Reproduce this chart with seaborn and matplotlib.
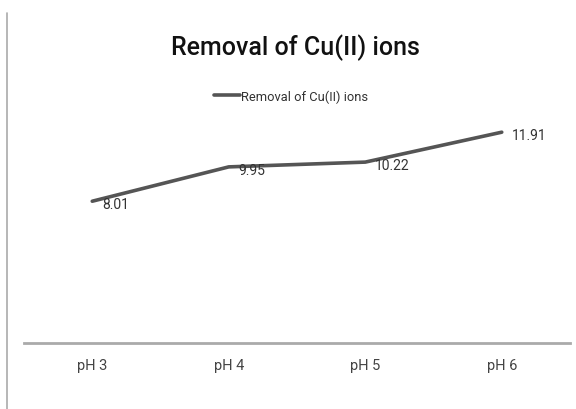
import matplotlib
matplotlib.use("Agg")
import matplotlib.pyplot as plt
import seaborn as sns
import pandas as pd
from matplotlib.lines import Line2D

categories = ["pH 3", "pH 4", "pH 5", "pH 6"]
values = [8.01, 9.95, 10.22, 11.91]
series_name = "Removal of Cu(II) ions"
title = "Removal of Cu(II) ions"

sns.set_theme(style="white")
plt.rcParams['font.family'] = ['Roboto', 'DejaVu Sans']

df = pd.DataFrame({"cat": categories, "val": values})

fig = plt.figure(figsize=(5.76, 4.10), dpi=100)
ax = fig.add_axes([24/576, 66/410, 546/576, (14*17.7)/410])
sns.lineplot(data=df, x="cat", y="val", ax=ax, color="#555555", linewidth=2.6,
             label=series_name, sort=False)
ax.set_xlim(-0.5, 3.5)
ax.set_ylim(0, 14)
ax.set_xlabel("")
ax.set_ylabel("")
ax.set_yticks([])
for s in ["top", "right", "left"]:
    ax.spines[s].set_visible(False)
ax.spines["bottom"].set_color("#aaaaaa")
ax.spines["bottom"].set_linewidth(2)
ax.tick_params(axis="x", length=0, pad=11, labelsize=10.5, labelcolor="#444444")

for i, v in enumerate(values):
    ax.annotate(f"{v:.2f}", (i, v), xytext=(7, -2), textcoords="offset points",
                ha="left", va="center", fontsize=10, color="#333333")

fig.text(295/576, 1 - 48/410, title, ha="center", va="center", fontsize=18,
         fontweight="medium", color="#111111")
leg = ax.legend(loc="center", bbox_to_anchor=(291/576, 1 - 97/410), bbox_transform=fig.transFigure,
                frameon=False, fontsize=9.3, handlelength=2.0, handletextpad=0.1,
                labelcolor="#333333")

fig.add_artist(Line2D([7/576, 7/576], [0, 1 - 14/410], transform=fig.transFigure,
                      color="#aaaaaa", linewidth=1.2))

fig.savefig("out.png", dpi=100)
